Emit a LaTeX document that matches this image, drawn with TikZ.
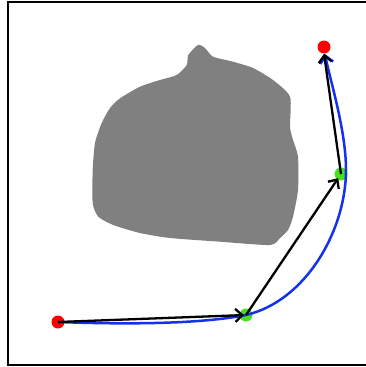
\documentclass[tikz,border=0pt]{standalone}
\usetikzlibrary{arrows.meta}
\definecolor{dgreen}{RGB}{70,225,25}
\definecolor{cblue}{RGB}{20,50,235}
\begin{document}
\begin{tikzpicture}[x=1pt,y=-1pt,
  dotred/.style={circle,fill=red,inner sep=0pt,minimum size=13pt},
  dotgreen/.style={circle,fill=dgreen,inner sep=0pt,minimum size=13pt},
  blk/.style={black,line width=2.3pt,-{Straight Barb[length=7pt,width=13pt,line width=2.3pt]}},
  blu/.style={cblue,line width=2.5pt,-{Straight Barb[length=7pt,width=13pt,line width=2.6pt]}}]
\useasboundingbox (0,0) rectangle (366,367);
\fill[white] (0,0) rectangle (366,367);
\draw[line width=2.8pt] (372,2) -- (8,2) -- (8,365) -- (372,365);
% obstacle
\fill[gray] plot[smooth cycle,tension=0.4] coordinates {
 (198,45) (205,48) (213,56.7) (233,61.7) (253,68) (273,80) (290,96.7)
 (290,126.7) (293,140) (298,156.7) (298,190) (293,216.7) (288,230) (280,238) (270,245)
 (220,241.7) (170,238) (140,233) (113.3,225) (98.3,216.7) (92.7,203) (92.7,170)
 (95,143) (101.7,123) (110,108) (120,98.3) (140,86.7) (160,80) (176.7,75)
 (186.7,65) (188.3,55)};
% points
\node[dotred] (s) at (58,322) {};
\node[dotgreen] (g1) at (246,315) {};
\node[dotgreen] (g2) at (341,174) {};
\node[dotred] (e) at (324,47) {};
% blue curve
\draw[blu] (s.center) .. controls (140,325) and (206,323) .. (g1.center)
  .. controls (306,301) and (346,230) .. (346,170)
  .. controls (346,130) and (330,80) .. (325,54);
% black arrows
\draw[blk,shorten >=2pt] (s.center) -- (g1.center);
\draw[blk,shorten >=5pt] (g1.center) -- (g2.center);
\draw[blk] (g2.center) -- (e.south);
\end{tikzpicture}
\end{document}
